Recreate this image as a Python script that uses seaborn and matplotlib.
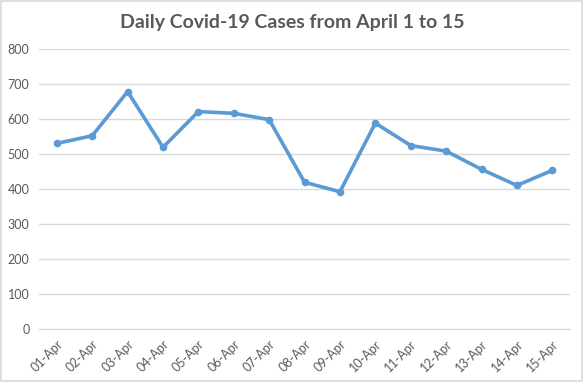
import seaborn as sns
import matplotlib.pyplot as plt
import numpy as np
import pandas as pd

# daily cases
dates = ["01-Apr", "02-Apr", "03-Apr", "04-Apr", "05-Apr", "06-Apr", "07-Apr", "08-Apr",
         "09-Apr", "10-Apr", "11-Apr", "12-Apr", "13-Apr", "14-Apr", "15-Apr"]
cases = [531, 553, 679, 520, 622, 617, 599, 420, 393, 589, 525, 509, 457, 411, 454]
y_ticks = [0, 100, 200, 300, 400, 500, 600, 700, 800]

df = pd.DataFrame({"date": dates, "cases": cases})

sns.set_style("white")
plt.rcParams['font.family'] = ['Lato', 'DejaVu Sans']

grey_text = "#595959"
line_col = "#5B9BD5"

fig = plt.figure(figsize=(5.84, 3.82), dpi=100)
ax = fig.add_axes([0.067, 0.138, 0.909, 0.733])

pos = np.arange(len(dates))
sns.lineplot(x=pos, y=df["cases"], ax=ax, color=line_col, linewidth=2.6,
             marker="o", markersize=5.5, markeredgewidth=0)

ax.set_xlim(-0.5, len(dates) - 0.5)
ax.set_ylim(0, 800)
ax.set_yticks(y_ticks)
ax.set_yticklabels([str(v) for v in y_ticks], color=grey_text, fontsize=9)
ax.set_xticks(pos)
ax.set_xticklabels(dates, rotation=45, ha="right", rotation_mode="anchor",
                   color=grey_text, fontsize=9)
ax.set_xticks(np.arange(-0.5, len(dates), 1), minor=True)
ax.tick_params(axis="x", which="major", length=0, pad=6)
ax.tick_params(axis="x", which="minor", length=5, color="#D9D9D9", width=1)
ax.tick_params(axis="y", length=0, pad=7)

ax.grid(axis="y", color="#D9D9D9", linewidth=1)
ax.set_axisbelow(True)
for side in ["top", "right", "left"]:
    ax.spines[side].set_visible(False)
ax.spines["bottom"].set_color("#D9D9D9")
ax.spines["bottom"].set_zorder(1)

ax.set_xlabel("")
ax.set_ylabel("")

fig.text(0.5, 0.94, "Daily Covid-19 Cases from April 1 to 15", ha="center", va="center",
         fontsize=14, fontweight="bold", color=grey_text)

# light chart border
fig.patches.append(plt.Rectangle((0.002, 0.003), 0.995, 0.994, transform=fig.transFigure,
                                 fill=False, edgecolor="#D9D9D9", linewidth=1.2))

fig.savefig("out.png", dpi=100)
